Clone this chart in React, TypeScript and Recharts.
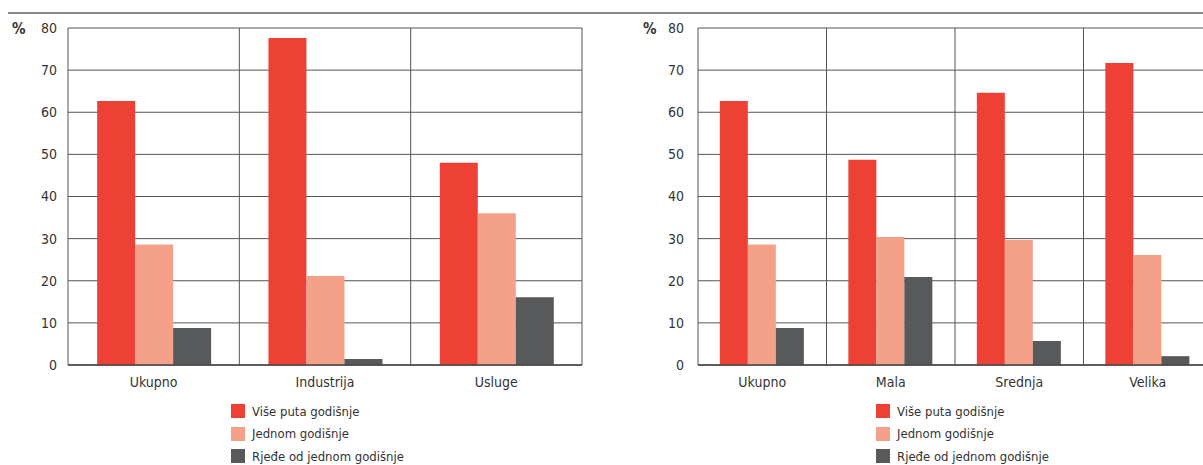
import React from 'react';
import { BarChart, Bar, XAxis, YAxis, CartesianGrid } from 'recharts';

const seriesNames = ['Više puta godišnje', 'Jednom godišnje', 'Rjeđe od jednom godišnje'];
const seriesKeys = ['vise', 'jednom', 'rjede'];
const seriesColors = ['#EE4136', '#F5A089', '#58595B'];

const categoriesLeft = ['Ukupno', 'Industrija', 'Usluge'];
const visePutaLeft = [62.7, 77.6, 48.0];
const jednomLeft = [28.6, 21.1, 36.0];
const rjedeLeft = [8.8, 1.4, 16.1];

const categoriesRight = ['Ukupno', 'Mala', 'Srednja', 'Velika'];
const visePutaRight = [62.7, 48.7, 64.6, 71.7];
const jednomRight = [28.6, 30.4, 29.7, 26.1];
const rjedeRight = [8.8, 20.9, 5.7, 2.1];

const yTicks = [0, 10, 20, 30, 40, 50, 60, 70, 80];

const FONT = '"DejaVu Sans Condensed", "Liberation Sans Narrow", sans-serif';
const TEXT = '#333333';

function build(cats: string[], a: number[], b: number[], c: number[]) {
  return cats.map((name, i) => ({ name, vise: a[i], jednom: b[i], rjede: c[i] }));
}

const dataLeft = build(categoriesLeft, visePutaLeft, jednomLeft, rjedeLeft);
const dataRight = build(categoriesRight, visePutaRight, jednomRight, rjedeRight);

function Panel({ data, width, yWidth, rightMargin, tickGap }: { data: any[]; width: number; yWidth: number; rightMargin: number; tickGap: number }) {
  const n = data.length;
  return (
    <BarChart
      width={width}
      height={465}
      data={data}
      margin={{ top: 28, right: rightMargin, left: 0, bottom: 70 }}
      barCategoryGap="17%"
      barGap={0}
    >
      <CartesianGrid
        stroke="#555555"
        strokeWidth={1}
        verticalCoordinatesGenerator={(props: any) => {
          const off = props.offset;
          const arr: number[] = [];
          for (let i = 0; i <= n; i++) arr.push(off.left + (i * off.width) / n);
          return arr;
        }}
      />
      <XAxis
        dataKey="name"
        height={30}
        tickLine={false}
        tickSize={0}
        tickMargin={12}
        axisLine={{ stroke: '#444444', strokeWidth: 1.5 }}
        tick={{ fill: TEXT, fontSize: 14, fontFamily: FONT }}
        interval={0}
      />
      <YAxis
        width={yWidth}
        domain={[0, 80]}
        ticks={yTicks}
        tickLine={false}
        axisLine={false}
        tickSize={0}
        tickMargin={tickGap}
        tick={{ fill: TEXT, fontSize: 14, fontFamily: FONT }}
      />
      {seriesKeys.map((k, i) => (
        <Bar key={k} dataKey={k} name={seriesNames[i]} fill={seriesColors[i]} isAnimationActive={false} />
      ))}
    </BarChart>
  );
}

function LegendBox({ left }: { left: number }) {
  return (
    <div style={{ position: 'absolute', left, top: 400 }}>
      {seriesNames.map((s, i) => (
        <div key={s} style={{ display: 'flex', alignItems: 'center', height: 22.5 }}>
          <div style={{ width: 14, height: 14, background: seriesColors[i], marginRight: 7 }} />
          <span style={{ fontFamily: FONT, fontSize: 13, color: TEXT, lineHeight: '15px' }}>{s}</span>
        </div>
      ))}
    </div>
  );
}

export default function App() {
  return (
    <div style={{ position: 'absolute', left: 0, top: 0, width: 1203, height: 465, overflow: 'hidden', background: '#fff' }}>
      <div style={{ position: 'absolute', left: 8, top: 12, width: 1195, height: 2, background: '#8a8a8a' }} />
      <div style={{ position: 'absolute', left: 0, top: 0 }}>
        <Panel data={dataLeft} width={600} yWidth={68} rightMargin={18} tickGap={11} />
      </div>
      <div style={{ position: 'absolute', left: 600, top: 0 }}>
        <Panel data={dataRight} width={620} yWidth={98} rightMargin={8} tickGap={14} />
      </div>
      <div style={{ position: 'absolute', left: 12, top: 20, fontFamily: FONT, fontSize: 15, fontWeight: 'bold', color: TEXT }}>%</div>
      <div style={{ position: 'absolute', left: 643, top: 20, fontFamily: FONT, fontSize: 15, fontWeight: 'bold', color: TEXT }}>%</div>
      <LegendBox left={231} />
      <LegendBox left={876} />
    </div>
  );
}
